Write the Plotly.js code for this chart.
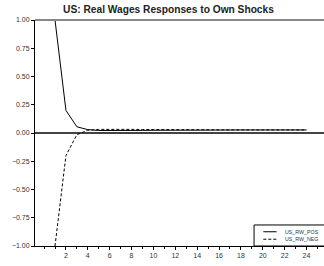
<!DOCTYPE html>
<html>
<head>
<meta charset="utf-8">
<script src="https://cdn.plot.ly/plotly-3.0.1.min.js"></script>
<style>html,body{margin:0;padding:0;background:#fff;}#chart{width:324px;height:266px;}</style>
</head>
<body>
<div id="chart"></div>
<script>
var periods = [1,2,3,4,5,6,7,8,9,10,11,12,13,14,15,16,17,18,19,20,21,22,23,24];
var usRwPos = [1.0,0.2,0.055,0.03,0.022,0.021,0.021,0.022,0.023,0.024,0.025,0.025,0.026,0.026,0.026,0.027,0.027,0.027,0.027,0.027,0.027,0.027,0.027,0.027];
var usRwNeg = [-1.0,-0.2,-0.015,0.025,0.032,0.034,0.033,0.032,0.031,0.030,0.029,0.029,0.028,0.028,0.028,0.028,0.027,0.027,0.027,0.027,0.027,0.027,0.027,0.027];
var seriesNames = ["US_RW_POS", "US_RW_NEG"];
var xTickVals = [2,4,6,8,10,12,14,16,18,20,22,24];
var yTickVals = [-1,-0.75,-0.5,-0.25,0,0.25,0.5,0.75,1];
var chartTitle = "US: Real Wages Responses to Own Shocks";

var dashStyles = ["solid", "3px,2px"];
var series = [usRwPos, usRwNeg];

var traces = series.map(function (vals, i) {
  return {x: periods, y: vals, name: seriesNames[i], type: "scatter", mode: "lines",
          line: {color: "#000", width: 1, dash: dashStyles[i]}, showlegend: false};
});

// manual legend (box + samples + labels) in paper coords
var legRowsY = [0.063, 0.030];
var shapes = [
  {type: "line", xref: "paper", yref: "paper", x0: 0, x1: 1, y0: 1, y1: 1,
   line: {color: "#888", width: 2}},
  {type: "rect", xref: "paper", yref: "paper", x0: 0.758, x1: 1.02, y0: 0, y1: 0.093,
   line: {color: "#000", width: 1}, fillcolor: "#fff", layer: "above"}
];
var annotations = [];
seriesNames.forEach(function (nm, i) {
  shapes.push({type: "line", xref: "paper", yref: "paper", x0: 0.790, x1: 0.836,
               y0: legRowsY[i], y1: legRowsY[i], layer: "above",
               line: {color: "#000", width: 1, dash: dashStyles[i]}});
  annotations.push({xref: "paper", yref: "paper", x: 0.862, y: legRowsY[i],
                    xanchor: "left", yanchor: "middle", text: nm, showarrow: false,
                    borderpad: 0, font: {size: 5.3, color: "#333"}});
});

var layout = {
  width: 324, height: 266,
  margin: {l: 35, r: 0, t: 20, b: 20, pad: 0},
  paper_bgcolor: "#fff", plot_bgcolor: "#fff",
  font: {family: "Liberation Sans, Arial, sans-serif", size: 7, color: "#333"},
  title: {text: "<b>" + chartTitle + "</b>", font: {size: 10.2, color: "#222", family: "Liberation Sans, Arial, sans-serif"},
          x: 0.52, xref: "container", xanchor: "center", y: 0.965, yref: "container", yanchor: "middle"},
  showlegend: false,
  xaxis: {range: [-0.83, 25.6], tickvals: xTickVals, ticktext: xTickVals.map(String),
          ticks: "outside", ticklen: 3, tickcolor: "#000", tickwidth: 1,
          minor: {dtick: 1, tick0: 0, ticks: "outside", ticklen: 2, tickcolor: "#000"},
          showline: true, linecolor: "#000", linewidth: 1, showgrid: false, zeroline: false,
          fixedrange: true},
  yaxis: {range: [-1, 1], tickvals: yTickVals, tickformat: ".2f",
          ticks: "outside", ticklen: 3, tickcolor: "#000", tickwidth: 1,
          showline: true, linecolor: "#000", linewidth: 1, showgrid: false,
          zeroline: true, zerolinecolor: "#444", zerolinewidth: 1.5, fixedrange: true},
  shapes: shapes,
  annotations: annotations
};

Plotly.newPlot("chart", traces, layout, {staticPlot: true, displayModeBar: false});
</script>
</body>
</html>
